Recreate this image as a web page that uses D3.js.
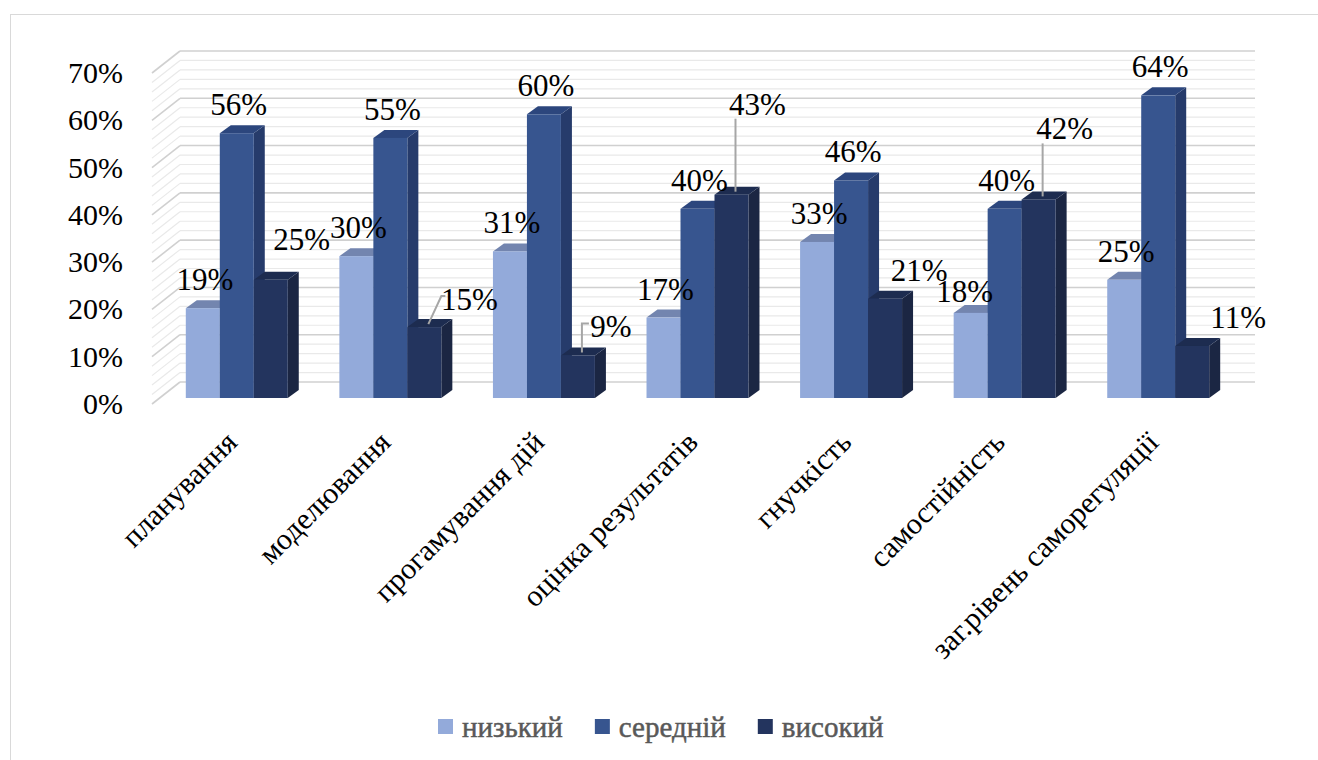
<!DOCTYPE html>
<html><head><meta charset="utf-8">
<script src="https://cdn.jsdelivr.net/npm/d3@7"></script>
</head>
<body style="margin:0">
<svg id="viz" width="1318" height="760"></svg>
<script>
const categories = ["планування","моделювання","прогамування дій","оцінка результатів","гнучкість","самостійність","заг.рівень саморегуляції"];
const seriesNames = ["низький","середній","високий"];
const lowValues  = [0.19,0.30,0.31,0.17,0.33,0.18,0.25];
const midValues  = [0.56,0.55,0.60,0.40,0.46,0.40,0.64];
const highValues = [0.25,0.15,0.09,0.43,0.21,0.42,0.11];
const yTicks = [0,0.1,0.2,0.3,0.4,0.5,0.6,0.7];
// label nudges (pixels) for data labels that were moved off their default spot
const labelNudges = {
  "високий|планування":[29,-12,false],
  "високий|моделювання":[43,1,true],
  "високий|прогамування дій":[31,0,true],
  "високий|оцінка результатів":[24,-62,true],
  "високий|гнучкість":[32,0,false],
  "низький|самостійність":[-8,7,false],
  "високий|самостійність":[24,-42,true],
  "високий|заг.рівень саморегуляції":[44,0,false]
};

const seriesValues = [lowValues, midValues, highValues];
const colors = {
  front:["#93AADA","#37558F","#23345E"],
  top:["#7385AF","#2C467D","#1D2C50"],
  side:["#6E80A8","#263B6B","#1B2643"]
};
const FONT = "Liberation Serif";

const svg = d3.select("#viz");
svg.append("rect").attr("x",10.5).attr("y",14.5).attr("width",1330).attr("height",760)
  .attr("fill","none").attr("stroke","#d9d9d9").attr("stroke-width",1);

const wallLeft = 180, wallRight = 1255;
const depthDX = -28, depthDY = 22;
const frontDX = -20, frontDY = 16;
const topDX = 11, topDY = -8;

const y = d3.scaleLinear().domain([0,0.7]).range([382,51]);
const x = d3.scaleBand().domain(categories).range([wallLeft,wallRight]).paddingInner(0.336).paddingOuter(0.168);
const xs = d3.scaleBand().domain(seriesNames).range([0,x.bandwidth()]);

function txt(sel, size){
  return sel.attr("font-family",FONT).attr("font-size",size)
    .style("font-family","'Liberation Serif', serif","important").style("font-size",size+"px","important");
}

const grid = svg.append("g");
d3.range(0,0.7001,0.02).forEach(v=>{
  const major = Math.abs(Math.round(v*100)%10)<0.5;
  const col = major? "#d0d0d0" : "#e9e9e9";
  const yy = y(v);
  grid.append("line").attr("x1",wallLeft).attr("x2",wallRight).attr("y1",yy).attr("y2",yy)
    .attr("stroke",col).attr("stroke-width",major?1.6:1.2);
  grid.append("line").attr("x1",wallLeft).attr("x2",wallLeft+depthDX).attr("y1",yy).attr("y2",yy+depthDY)
    .attr("stroke",col).attr("stroke-width",major?1.6:1.2);
});

txt(svg.append("g").selectAll("text").data(yTicks).join("text")
  .attr("x",123).attr("y",d=>y(d)+depthDY+10)
  .attr("text-anchor","end").attr("fill","#000")
  .text(d=>Math.round(d*100)+"%"), 30);

const bars = svg.append("g");
const labels = svg.append("g");
const leaders = svg.append("g");
categories.forEach((c,ci)=>{
  seriesNames.forEach((s,si)=>{
    const v = seriesValues[si][ci];
    const x0 = x(c)+xs(s)+frontDX;
    const w = xs.bandwidth();
    const yt = y(v)+frontDY, yb = y(0)+frontDY;
    const g = bars.append("g");
    g.append("path").attr("d",`M${x0+w},${yt}L${x0+w+topDX},${yt+topDY}L${x0+w+topDX},${yb+topDY}L${x0+w},${yb}Z`).attr("fill",colors.side[si]);
    g.append("path").attr("d",`M${x0},${yt}L${x0+topDX},${yt+topDY}L${x0+w+topDX},${yt+topDY}L${x0+w},${yt}Z`).attr("fill",colors.top[si]);
    g.append("rect").attr("x",x0).attr("y",yt).attr("width",w).attr("height",yb-yt).attr("fill",colors.front[si]);
    const key = s+"|"+c;
    const nd = labelNudges[key] || [0,0,false];
    const cx = x0 + w/2 + 2 + nd[0];
    const by = yt - 18 + nd[1];
    txt(labels.append("text").attr("x",cx).attr("y",by).attr("text-anchor","middle")
      .attr("fill","#000").text(Math.round(v*100)+"%"), 31);
    if(nd[2]){
      const bx = x0 + w/2 + 4, byTop = yt - 3;
      let d;
      if(nd[1] < -20){
        d = `M${bx},${byTop}L${bx},${by+4}`;
      } else {
        const lx = cx - 24;
        d = `M${bx},${byTop}L${bx+Math.min(16,lx-bx-4)},${by-14}L${lx},${by-14}`;
        if(si===2 && ci===2) d = `M${bx},${byTop}L${bx},${by-14}L${lx+2},${by-14}`;
      }
      leaders.append("path").attr("d",d).attr("fill","none").attr("stroke","#a6a6a6").attr("stroke-width",2);
    }
  });
});

txt(svg.append("g").selectAll("text").data(categories).join("text")
  .attr("transform",d=>`translate(${x(d)+x.bandwidth()/2+frontDX+2},${444}) rotate(-45)`)
  .attr("text-anchor","end").attr("fill","#000")
  .text(d=>d), 30);

const legend = svg.append("g");
let lx = 438;
seriesNames.forEach((s,i)=>{
  legend.append("rect").attr("x",lx).attr("y",719).attr("width",15).attr("height",15).attr("fill",colors.front[i]);
  const t = txt(legend.append("text").attr("x",lx+24).attr("y",737)
    .attr("fill","#595959").attr("stroke","#595959").attr("stroke-width",0.5).text(s), 29);
  lx += 24 + t.node().getComputedTextLength() + 32;
});
</script>
</body></html>
